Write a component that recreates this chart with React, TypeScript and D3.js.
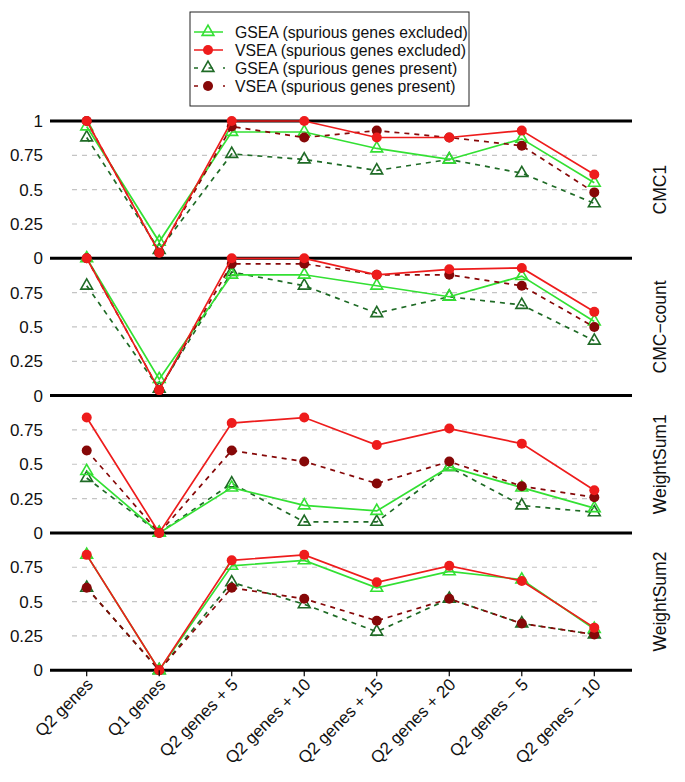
import React from "react";
import * as d3 from "d3";

const categories = [
  "Q2 genes",
  "Q1 genes",
  "Q2 genes + 5",
  "Q2 genes + 10",
  "Q2 genes + 15",
  "Q2 genes + 20",
  "Q2 genes \u2212 5",
  "Q2 genes \u2212 10",
];

const panelNames = ["CMC1", "CMC\u2212count", "WeightSum1", "WeightSum2"];

const seriesNames = [
  "GSEA (spurious genes excluded)",
  "VSEA (spurious genes excluded)",
  "GSEA (spurious genes present)",
  "VSEA (spurious genes present)",
];

// CMC1
const cmc1GseaExcl = [0.96, 0.12, 0.92, 0.92, 0.8, 0.72, 0.87, 0.55];
const cmc1VseaExcl = [1.0, 0.04, 1.0, 1.0, 0.88, 0.88, 0.93, 0.61];
const cmc1GseaPres = [0.88, 0.06, 0.76, 0.72, 0.64, 0.72, 0.62, 0.4];
const cmc1VseaPres = [1.0, 0.04, 0.96, 0.88, 0.93, 0.88, 0.82, 0.48];

// CMC-count
const cmcCountGseaExcl = [1.0, 0.12, 0.88, 0.88, 0.8, 0.72, 0.87, 0.54];
const cmcCountVseaExcl = [1.0, 0.04, 1.0, 1.0, 0.88, 0.92, 0.93, 0.61];
const cmcCountGseaPres = [0.8, 0.05, 0.9, 0.8, 0.6, 0.72, 0.66, 0.4];
const cmcCountVseaPres = [1.0, 0.04, 0.96, 0.96, 0.88, 0.88, 0.8, 0.5];

// WeightSum1
const ws1GseaExcl = [0.45, 0, 0.33, 0.2, 0.16, 0.48, 0.33, 0.18];
const ws1VseaExcl = [0.84, 0, 0.8, 0.84, 0.64, 0.76, 0.65, 0.31];
const ws1GseaPres = [0.4, 0, 0.36, 0.08, 0.08, 0.48, 0.2, 0.15];
const ws1VseaPres = [0.6, 0, 0.6, 0.52, 0.36, 0.52, 0.34, 0.26];

// WeightSum2
const ws2GseaExcl = [0.84, 0, 0.76, 0.8, 0.6, 0.72, 0.66, 0.3];
const ws2VseaExcl = [0.84, 0, 0.8, 0.84, 0.64, 0.76, 0.65, 0.31];
const ws2GseaPres = [0.6, 0, 0.64, 0.48, 0.28, 0.52, 0.34, 0.26];
const ws2VseaPres = [0.6, 0, 0.6, 0.52, 0.36, 0.52, 0.34, 0.26];

const yTicks = [0, 0.25, 0.5, 0.75, 1];
const gridTicks = [0.25, 0.5, 0.75];

// [gseaExcl, vseaExcl, gseaPres, vseaPres] per panel
const panelData = [
  [cmc1GseaExcl, cmc1VseaExcl, cmc1GseaPres, cmc1VseaPres],
  [cmcCountGseaExcl, cmcCountVseaExcl, cmcCountGseaPres, cmcCountVseaPres],
  [ws1GseaExcl, ws1VseaExcl, ws1GseaPres, ws1VseaPres],
  [ws2GseaExcl, ws2VseaExcl, ws2GseaPres, ws2VseaPres],
];

const FONT = "'Liberation Sans', Arial, Helvetica, sans-serif";

const styles = [
  { color: "#33e033", dash: null, marker: "tri" },
  { color: "#ee1c1c", dash: null, marker: "circle" },
  { color: "#1f6b26", dash: "5,5", marker: "tri" },
  { color: "#860808", dash: "5,5", marker: "circle" },
];
// drawing order (later on top)
const drawOrder = [2, 0, 3, 1];

const triPath = d3.symbol().type(d3.symbolTriangle).size(60)();

function Marker({ kind, color, x, y }: { kind: string; color: string; x: number; y: number }) {
  if (kind === "tri") {
    return (
      <path
        d={triPath as string}
        transform={`translate(${x},${y})`}
        fill="none"
        stroke={color}
        strokeWidth={1.6}
      />
    );
  }
  return <circle cx={x} cy={y} r={5} fill={color} />;
}

export default function App() {
  const width = 685;
  const height = 782;
  const plotTop = 121;
  const panelH = 137.3;
  const axisLeft = 50;
  const axisRight = 632;
  const gridLeft = 72;
  const gridRight = 602;

  const x = d3.scalePoint<string>().domain(categories).range([86.7, 594.3]);

  const panels = panelNames.map((name, i) => {
    const top = plotTop + i * panelH;
    const y = d3.scaleLinear().domain([0, 1]).range([top + panelH, top]);
    return { name, top, y, data: panelData[i] };
  });
  const bottom = plotTop + panelNames.length * panelH;

  const legendX = 190;
  const legendY = 12;
  const legendW = 279;
  const legendH = 94;
  const rowY = (i: number) => legendY + 20 + i * 18;

  return (
    <svg
      width={width}
      height={height}
      style={{ position: "absolute", left: 0, top: 0, background: "#fff" }}
      fontFamily={FONT}
    >
      <rect x={0} y={0} width={width} height={height} fill="#fff" />
      {/* legend */}
      <rect
        x={legendX}
        y={legendY}
        width={legendW}
        height={legendH}
        fill="#fff"
        stroke="#222"
        strokeWidth={1}
      />
      {seriesNames.map((s, i) => {
        const st = styles[i];
        const ly = rowY(i);
        return (
          <g key={s}>
            {st.dash ? (
              <line
                x1={legendX + 4}
                x2={legendX + 35}
                y1={ly}
                y2={ly}
                stroke={st.color}
                strokeWidth={1.5}
                strokeDasharray="4,10.5"
              />
            ) : (
              <line
                x1={legendX + 4}
                x2={legendX + 33}
                y1={ly}
                y2={ly}
                stroke={st.color}
                strokeWidth={1.5}
              />
            )}
            <Marker kind={st.marker} color={st.color} x={legendX + 18} y={ly} />
            <text x={legendX + 45} y={ly} dy="0.36em" fontSize={15.8} fill="#111">
              {s}
            </text>
          </g>
        );
      })}

      {panels.map((p, pi) => (
        <g key={p.name}>
          {gridTicks.map((t) => (
            <line
              key={t}
              x1={gridLeft}
              x2={gridRight}
              y1={p.y(t)}
              y2={p.y(t)}
              stroke="#c4c4c4"
              strokeWidth={1.2}
              strokeDasharray="5,5"
            />
          ))}
          {yTicks
            .filter((t) => t < 1 || pi === 0)
            .map((t) => (
              <text
                key={t}
                x={43}
                y={p.y(t)}
                dy="0.36em"
                textAnchor="end"
                fontSize={17}
                fill="#111"
              >
                {String(t)}
              </text>
            ))}
          <text
            transform={`translate(660,${p.top + panelH / 2}) rotate(-90)`}
            textAnchor="middle"
            dy="0.36em"
            fontSize={17.5}
            fill="#111"
          >
            {p.name}
          </text>
        </g>
      ))}

      {/* thick panel boundary lines */}
      {panels.map((p) => (
        <line
          key={"b" + p.name}
          x1={axisLeft}
          x2={axisRight}
          y1={p.top}
          y2={p.top}
          stroke="#000"
          strokeWidth={3}
        />
      ))}
      <line x1={axisLeft} x2={axisRight} y1={bottom} y2={bottom} stroke="#000" strokeWidth={3} />

      {/* series */}
      {panels.map((p) => {
        const line = d3
          .line<number>()
          .x((_, i) => x(categories[i]) as number)
          .y((d) => p.y(d));
        return (
          <g key={"s" + p.name}>
            {drawOrder.map((si) => {
              const st = styles[si];
              const vals = p.data[si];
              return (
                <g key={si}>
                  <path
                    d={line(vals) as string}
                    fill="none"
                    stroke={st.color}
                    strokeWidth={1.7}
                    strokeDasharray={st.dash || undefined}
                  />
                  {vals.map((v, i) => (
                    <Marker
                      key={i}
                      kind={st.marker}
                      color={st.color}
                      x={x(categories[i]) as number}
                      y={p.y(v)}
                    />
                  ))}
                </g>
              );
            })}
          </g>
        );
      })}

      {/* x axis ticks and labels */}
      {categories.map((c) => {
        const cx = x(c) as number;
        return (
          <g key={c}>
            <line x1={cx} x2={cx} y1={bottom} y2={bottom + 6} stroke="#000" strokeWidth={1.2} />
            <text
              transform={`translate(${cx + 3},${bottom + 11}) rotate(-45)`}
              textAnchor="end"
              dy="0.36em"
              fontSize={17}
              fill="#111"
            >
              {c}
            </text>
          </g>
        );
      })}
    </svg>
  );
}
